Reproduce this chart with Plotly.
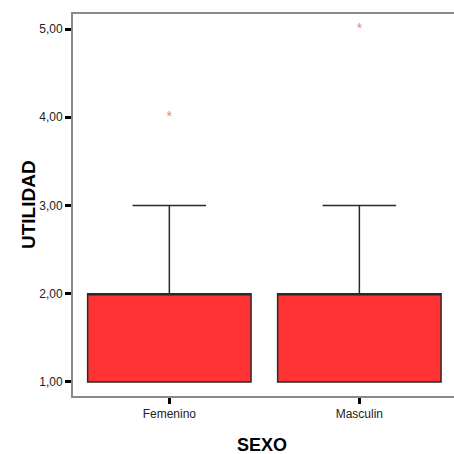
import plotly.graph_objects as go

categories = ["Femenino", "Masculin"]
q1 = [1.0, 1.0]
median = [2.0, 2.0]
q3 = [2.0, 2.0]
lower_fence = [1.0, 1.0]
upper_fence = [3.0, 3.0]
outlier_x = ["Femenino", "Masculin"]
outlier_y = [4.0, 5.0]
y_ticks = [1, 2, 3, 4, 5]
y_tick_labels = ["1,00", "2,00", "3,00", "4,00", "5,00"]

fig = go.Figure()
fig.add_trace(go.Box(
    x=categories, q1=q1, median=median, q3=q3,
    lowerfence=lower_fence, upperfence=upper_fence,
    fillcolor="#FF3333", line=dict(color="#2a2a2a", width=1.5),
    width=0.86, whiskerwidth=0.45, boxpoints=False, showlegend=False,
    hoverinfo="skip",
))
fig.add_trace(go.Scatter(
    x=outlier_x, y=outlier_y, mode="text", text=["*", "*"],
    textposition="middle center",
    textfont=dict(color="#FF7A7A", size=14, family="Liberation Sans"),
    showlegend=False, hoverinfo="skip",
))

fig.update_layout(
    width=454, height=454,
    margin=dict(l=73, r=0, t=14, b=58),
    paper_bgcolor="white", plot_bgcolor="white",
    font=dict(family="Liberation Sans, Arial", color="#222222", size=12),
    xaxis=dict(
        type="category", range=[-0.507, 1.498],
        showline=True, linecolor="#8a8a8a", linewidth=2, mirror=True,
        ticks="outside", ticklen=6, tickwidth=3, tickcolor="black",
        showgrid=False, zeroline=False, tickfont=dict(size=12),
    ),
    yaxis=dict(
        range=[0.841, 5.17],
        tickvals=y_ticks, ticktext=y_tick_labels,
        showline=True, linecolor="#8a8a8a", linewidth=2, mirror=False,
        ticks="outside", ticklen=6, tickwidth=3, tickcolor="black",
        showgrid=False, zeroline=False, tickfont=dict(size=12),
    ),
    annotations=[
        dict(text="<b>UTILIDAD</b>", xref="paper", yref="paper",
             x=-0.118, y=0.5, xanchor="center", yanchor="middle",
             textangle=-90, showarrow=False,
             font=dict(size=19, color="black", family="Liberation Sans, Arial")),
        dict(text="<b>SEXO</b>", xref="paper", yref="paper",
             x=0.496, y=-0.128, xanchor="center", yanchor="middle",
             showarrow=False,
             font=dict(size=18, color="black", family="Liberation Sans, Arial")),
    ],
)

fig.write_html("out.html")
